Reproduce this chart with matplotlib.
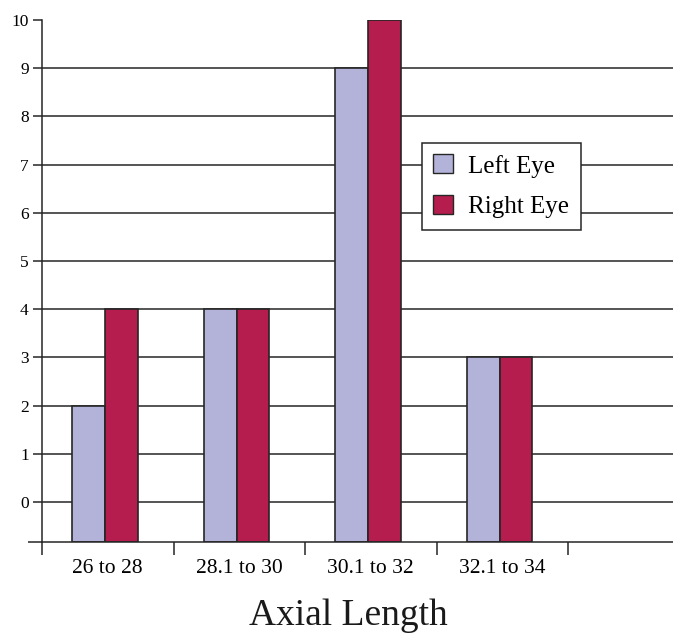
import numpy as np
import matplotlib.pyplot as plt
from matplotlib.patches import Patch
from matplotlib.ticker import FixedLocator

# data
categories = ["26 to 28", "28.1 to 30", "30.1 to 32", "32.1 to 34"]
left_eye = [2, 4, 9, 3]
right_eye = [4, 4, 10, 3]
y_ticks = list(range(0, 11))

left_color = "#b3b3d9"
right_color = "#b41d4d"
line_color = "#262626"

plt.rcParams["font.family"] = ["Liberation Serif", "DejaVu Serif"]

fig = plt.figure(figsize=(6.73, 6.39), dpi=100)
ax = fig.add_axes([42 / 673, 97 / 639, 631 / 673, 522 / 639])

ymin, ymax = -0.83, 10
x = np.arange(len(categories)) + 0.5
w = 0.25
shift = -0.02

# gridlines (0..9)
for v in y_ticks[:-1]:
    ax.axhline(v, color=line_color, lw=1.1, zorder=1)

ax.bar(x + shift - w / 2, np.array(left_eye) - ymin, w, bottom=ymin,
       color=left_color, edgecolor=line_color, linewidth=1.2, zorder=3,
       label="Left Eye")
ax.bar(x + shift + w / 2, np.array(right_eye) - ymin, w, bottom=ymin,
       color=right_color, edgecolor=line_color, linewidth=1.2, zorder=3,
       label="Right Eye")

ax.set_xlim(0, 631 / 131.5)
ax.set_ylim(ymin, ymax)

for s in ["top", "right"]:
    ax.spines[s].set_visible(False)
for s in ["left", "bottom"]:
    ax.spines[s].set_color(line_color)
    ax.spines[s].set_linewidth(1.1)
    ax.spines[s].set_zorder(4)

# bottom axis sticks out a bit to the left
ax.plot([-0.11, 0], [ymin, ymin], color=line_color, lw=1.1, clip_on=False,
        solid_capstyle="butt", zorder=4)

ax.set_yticks(y_ticks)
ax.set_yticklabels([str(v) for v in y_ticks], fontsize=12.5)
ax.tick_params(axis="y", length=6.5, width=1.1, color=line_color, pad=3)

ax.set_xticks(x)
ax.set_xticklabels(categories, fontsize=15.5)
ax.tick_params(axis="x", which="major", length=0, pad=12)
ax.xaxis.set_minor_locator(FixedLocator([0, 1, 2, 3, 4]))
ax.tick_params(axis="x", which="minor", length=9, width=1.1, color=line_color)

handles = [Patch(facecolor=left_color, edgecolor=line_color, linewidth=1.0),
           Patch(facecolor=right_color, edgecolor=line_color, linewidth=1.0)]
leg = fig.legend(handles, ["Left Eye", "Right Eye"], loc="upper left",
                 bbox_to_anchor=(422 / 673, 1 - 143 / 639), borderaxespad=0,
                 fontsize=18, frameon=True, fancybox=False, framealpha=1,
                 edgecolor=line_color, handlelength=0.8, handleheight=0.8,
                 handletextpad=0.6, labelspacing=0.7, borderpad=0.45)
leg.get_frame().set_linewidth(1.1)

fig.text(348 / 673, 14 / 639, "Axial Length", ha="center", va="baseline",
         fontsize=27, color="#1a1a1a")

fig.savefig("out.png", dpi=100)
